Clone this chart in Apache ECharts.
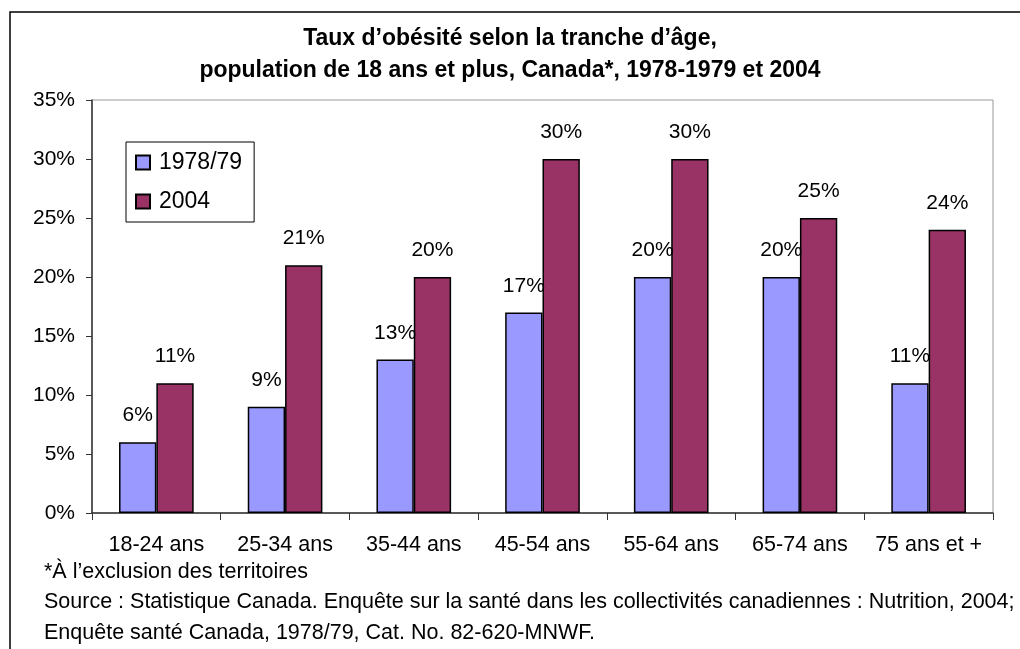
<!DOCTYPE html>
<html>
<head>
<meta charset="utf-8">
<script src="https://cdn.jsdelivr.net/npm/echarts@6/dist/echarts.min.js"></script>
<style>
    html, body { margin: 0; padding: 0; background: #fff; }
    #chart { width: 1020px; height: 649px; }
</style>
</head>
<body>
<div id="chart"></div>
<script>
// categories and values
const categories = ['18-24 ans', '25-34 ans', '35-44 ans', '45-54 ans', '55-64 ans', '65-74 ans', '75 ans et +']
const seriesNames = ['1978/79', '2004']
const values1978 = [6, 9, 13, 17, 20, 20, 11]
const values2004 = [11, 21, 20, 30, 30, 25, 24]
const titleLines = ['Taux d’obésité selon la tranche d’âge,', 'population de 18 ans et plus, Canada*, 1978-1979 et 2004']
const notes = [
    '*À l’exclusion des territoires',
    'Source : Statistique Canada. Enquête sur la santé dans les collectivités canadiennes : Nutrition, 2004;',
    'Enquête santé Canada, 1978/79, Cat. No. 82-620-MNWF.',
]

const FONT = '"Liberation Sans", Arial, sans-serif'
const COLORS = ['#9999FF', '#993366']

const chart = echarts.init(document.getElementById('chart'))

const makeSeries = (name, data, index) => {
    return {
        name: name,
        type: 'bar',
        data: data,
        barGap: 0,
        barCategoryGap: '42%',
        itemStyle: {
            color: COLORS[index],
            borderColor: '#000',
            borderWidth: 1.5,
        },
        label: {
            show: true,
            position: 'top',
            distance: 16,
            formatter: '{c}%',
            color: '#000',
            fontFamily: FONT,
            fontSize: 21,
        },
        emphasis: { disabled: true },
        animation: false,
    }
}

const option = {
    animation: false,
    backgroundColor: '#fff',
    textStyle: { fontFamily: FONT, color: '#000' },
    title: {
        text: titleLines.join('\n'),
        left: 'center',
        top: 18,
        textStyle: {
            fontFamily: FONT,
            fontSize: 23,
            fontWeight: 'bold',
            color: '#000',
            lineHeight: 32,
        },
    },
    legend: {
        orient: 'vertical',
        left: 126,
        top: 142,
        padding: [9, 12, 9, 9],
        itemGap: 16,
        itemWidth: 14,
        itemHeight: 14,
        icon: 'rect',
        borderColor: '#000',
        borderWidth: 1,
        backgroundColor: '#fff',
        selectedMode: false,
        textStyle: { fontFamily: FONT, fontSize: 23, color: '#000', padding: [0, 0, 0, 4] },
        data: seriesNames,
    },
    grid: {
        left: 92,
        top: 100,
        right: 27,
        bottom: 136,
        show: true,
        borderColor: '#999',
        borderWidth: 1,
        containLabel: false,
    },
    xAxis: {
        type: 'category',
        data: categories,
        axisLine: { lineStyle: { color: '#333', width: 1.5 } },
        axisTick: { show: true, length: 7, lineStyle: { color: '#333' } },
        axisLabel: { interval: 0, fontFamily: FONT, fontSize: 21.5, color: '#000', margin: 21 },
        splitLine: { show: false },
    },
    yAxis: {
        type: 'value',
        min: 0,
        max: 35,
        interval: 5,
        axisLine: { show: true, lineStyle: { color: '#333', width: 1.5 } },
        axisTick: { show: true, length: 6, lineStyle: { color: '#333' } },
        axisLabel: { formatter: '{value}%', fontFamily: FONT, fontSize: 21, color: '#000', margin: 17 },
        splitLine: { show: false },
    },
    series: [
        makeSeries(seriesNames[0], values1978, 0),
        makeSeries(seriesNames[1], values2004, 1),
    ],
    graphic: [
        {
            type: 'rect',
            silent: true,
            z: 100,
            shape: { x: 10, y: 12, width: 1100, height: 700 },
            style: { fill: 'none', stroke: '#000', lineWidth: 1.5 },
        },
    ].concat(notes.map((line, i) => {
        return {
            type: 'text',
            left: 44,
            top: 561 + i * 30.5,
            silent: true,
            style: { text: line, fontFamily: FONT, fontSize: 21.5, fill: '#000' },
        }
    })),
}

chart.setOption(option)
</script>
</body>
</html>
